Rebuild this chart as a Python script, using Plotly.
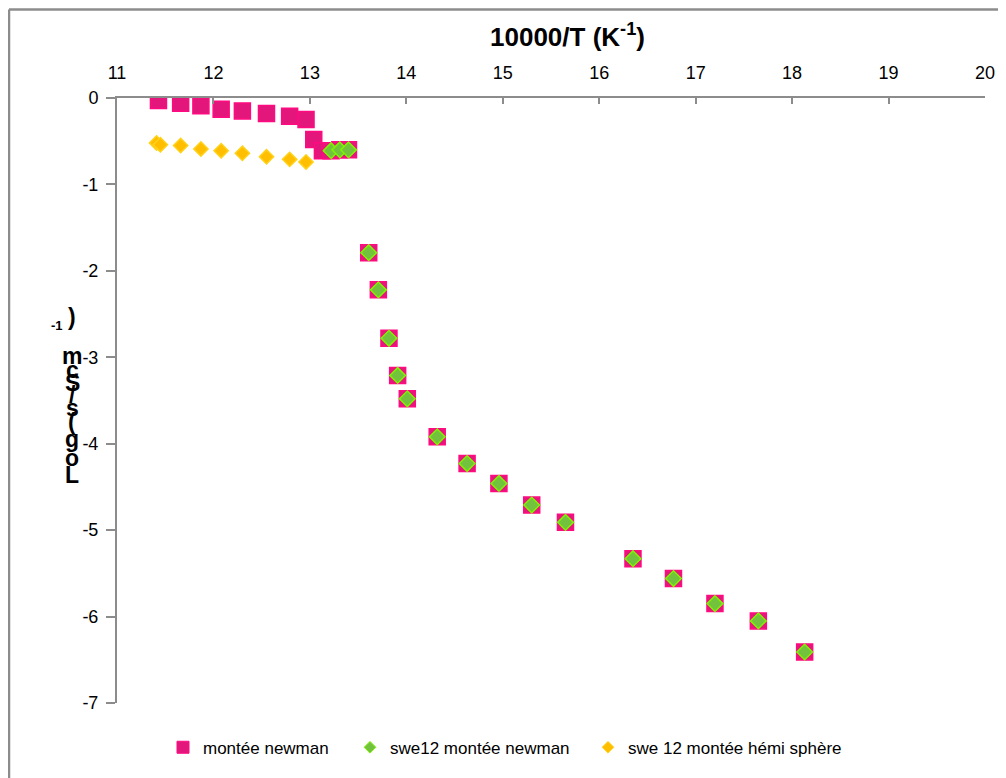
import plotly.graph_objects as go

# ---------------- data ----------------
newman_x = [11.43, 11.66, 11.87, 12.08, 12.30, 12.55, 12.79, 12.96, 13.04, 13.13,
            13.22, 13.31, 13.40,
            13.61, 13.71, 13.82, 13.91, 14.01,
            14.32, 14.63, 14.96, 15.30, 15.65, 16.35, 16.77, 17.20, 17.65, 18.13]
newman_y = [-0.03, -0.06, -0.09, -0.13, -0.15, -0.18, -0.21, -0.25, -0.48, -0.61,
            -0.61, -0.60, -0.60,
            -1.79, -2.22, -2.78, -3.21, -3.48,
            -3.92, -4.23, -4.46, -4.71, -4.91, -5.33, -5.56, -5.85, -6.05, -6.41]

swe12_x = [13.22, 13.31, 13.40,
           13.61, 13.71, 13.82, 13.91, 14.01,
           14.32, 14.63, 14.96, 15.30, 15.65, 16.35, 16.77, 17.20, 17.65, 18.13]
swe12_y = [-0.61, -0.60, -0.60,
           -1.79, -2.22, -2.78, -3.21, -3.48,
           -3.92, -4.23, -4.46, -4.71, -4.91, -5.33, -5.56, -5.85, -6.05, -6.41]

hemi_x = [11.41, 11.45, 11.66, 11.87, 12.08, 12.30, 12.55, 12.79, 12.96]
hemi_y = [-0.52, -0.54, -0.55, -0.59, -0.61, -0.64, -0.68, -0.71, -0.74]

series_names = ["montée newman", "swe12 montée newman", "swe 12 montée hémi sphère"]

x_ticks = [11, 12, 13, 14, 15, 16, 17, 18, 19, 20]
y_ticks = [0, -1, -2, -3, -4, -5, -6, -7]
y_ticktext = ["0", "-1", "-2", "-3", "-4", "-5", "-6", "-7"]

x_title = "<b>10000/T (K<sup>-1</sup>)</b>"
y_title_chars = ["L", "o", "g", "(", "s", "/", "S", "c", "m", ")"]

# ---------------- layout helpers (page pixels -> figure) ----------------
OFF = 8  # html body margin
W, H = 1006 - OFF, 778 - OFF
L, R, T, B = 117, 985, 98, 707  # plot area in page pixels
PW, PH = R - L, B - T


def px(x):
    return (x - L) / PW


def py(y):
    return (B - y) / PH


PINK_FILL, PINK_LINE = "#E3177B", "#FF0A80"
GREEN_FILL, GREEN_LINE = "#72C23E", "#7CF500"
YEL_FILL, YEL_LINE = "#FFBE00", "#FFD21A"
AXIS = "#8C8C8C"
FONT = "Liberation Sans"

fig = go.Figure()

fig.add_trace(go.Scatter(x=newman_x, y=newman_y, mode="markers", showlegend=False,
                         marker=dict(symbol="square", size=16, color=PINK_FILL,
                                     line=dict(color=PINK_LINE, width=1.5))))
fig.add_trace(go.Scatter(x=swe12_x, y=swe12_y, mode="markers", showlegend=False,
                         marker=dict(symbol="diamond", size=12, color=GREEN_FILL,
                                     line=dict(color=GREEN_LINE, width=1.5))))
fig.add_trace(go.Scatter(x=hemi_x, y=hemi_y, mode="markers", showlegend=False,
                         marker=dict(symbol="diamond", size=11, color=YEL_FILL,
                                     line=dict(color=YEL_LINE, width=1.5))))

# legend entries (separate legends to match spacing); tx = text start in page px
leg_specs = [
    (series_names[0], "square", 12, PINK_FILL, PINK_LINE, "legend", 203),
    (series_names[1], "diamond", 9, GREEN_FILL, GREEN_LINE, "legend2", 390),
    (series_names[2], "diamond", 9, YEL_FILL, YEL_LINE, "legend3", 628),
]
legend_layouts = {}
for name, sym, sz, fc, lc, lg, tx in leg_specs:
    fig.add_trace(go.Scatter(x=[None], y=[None], mode="markers", name=name, legend=lg,
                             marker=dict(symbol=sym, size=sz, color=fc,
                                         line=dict(color=lc, width=1))))
    legend_layouts[lg] = dict(x=px(tx - 40), y=py(752), xanchor="left", yanchor="middle",
                              orientation="h", itemwidth=30, bgcolor="rgba(0,0,0,0)",
                              font=dict(family=FONT, size=17, color="#000"),
                              tracegroupgap=0)

fig.update_layout(
    width=W, height=H,
    margin=dict(l=L - OFF, r=W - (R - OFF), t=T - OFF, b=H - (B - OFF), pad=0),
    paper_bgcolor="white", plot_bgcolor="white",
    font=dict(family=FONT, color="#000"),
    showlegend=True,
    **legend_layouts,
    xaxis=dict(range=[11, 20], side="top", tickvals=x_ticks, ticks="inside", ticklen=6,
               tickwidth=2, tickcolor=AXIS, showline=True, linecolor=AXIS, linewidth=2,
               showgrid=False, zeroline=False, tickfont=dict(size=18, family=FONT),
               ticklabelstandoff=10),
    yaxis=dict(range=[-7, 0], tickvals=y_ticks, ticktext=y_ticktext, ticks="outside",
               ticklen=9, tickwidth=2, tickcolor=AXIS, showline=True, linecolor=AXIS,
               linewidth=2, showgrid=False, zeroline=False,
               tickfont=dict(size=18, family=FONT), ticklabelstandoff=4),
)

# x axis title
fig.add_annotation(text=x_title, xref="paper", yref="paper", x=px(567), y=py(35),
                   showarrow=False, xanchor="center", yanchor="middle",
                   font=dict(family=FONT, size=26, color="#000"))

# stacked y-axis title characters (bottom to top)
ys = [477, 460, 441, 424, 410, 397, 385, 372, 358, 318]
for ch, yy in zip(y_title_chars, ys):
    fig.add_annotation(text="<b>" + ch + "</b>", xref="paper", yref="paper",
                       x=px(72), y=py(yy), showarrow=False, xanchor="center",
                       yanchor="middle", font=dict(family=FONT, size=23, color="#000"))
fig.add_annotation(text="<b>-1</b>", xref="paper", yref="paper", x=px(57), y=py(327),
                   showarrow=False, xanchor="center", yanchor="middle",
                   font=dict(family=FONT, size=13, color="#000"))

# outer chart border (top and left)
fig.add_shape(type="line", xref="paper", yref="paper", x0=px(9), y0=py(9), x1=px(1014),
              y1=py(9), line=dict(color=AXIS, width=2.5))
fig.add_shape(type="line", xref="paper", yref="paper", x0=px(9), y0=py(9), x1=px(9),
              y1=py(786), line=dict(color=AXIS, width=2.5))

fig.write_html("out.html")
